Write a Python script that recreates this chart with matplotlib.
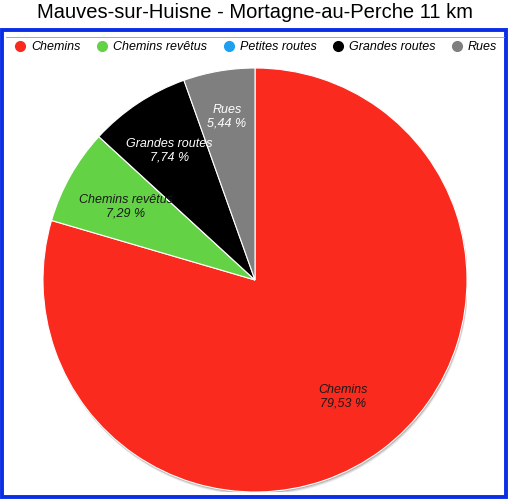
import numpy as np
import matplotlib
matplotlib.use("Agg")
import matplotlib.pyplot as plt
from matplotlib.lines import Line2D
from matplotlib.patches import Rectangle, Circle

# data
categories = ["Chemins", "Chemins revêtus", "Petites routes", "Grandes routes", "Rues"]
values = [79.53, 7.29, 0.0, 7.74, 5.44]
colors = ["#fb2a1e", "#63d245", "#1f9ff0", "#000000", "#7f7f7f"]
text_colors = ["#1a1a1a", "#1a1a1a", "#1a1a1a", "#ffffff", "#ffffff"]
title = "Mauves-sur-Huisne - Mortagne-au-Perche 11 km"

plt.rcParams['font.family'] = ['Liberation Sans', 'DejaVu Sans']

fig = plt.figure(figsize=(5.1, 5.0), dpi=100)
fig.patch.set_facecolor("white")

# blue frame around chart area
fig.patches.append(Rectangle((2.5 / 510, 3 / 500), 504 / 510, 467 / 500,
                             transform=fig.transFigure, fill=False,
                             edgecolor="#0a2ee6", linewidth=2.8, zorder=0))
fig.add_artist(Line2D([6 / 510, 504 / 510], [1 - 37 / 500, 1 - 37 / 500],
                      transform=fig.transFigure, color="#9a9a9a", linewidth=0.6))

fig.text(0.5, 1 - 13 / 500, title, ha="center", va="center", fontsize=14.5)

ax = fig.add_axes([43 / 510, 8 / 500, 424 / 510, 424 / 500])
# soft grey shadow under the pie
for off, a in [(0.016, 0.10), (0.011, 0.18), (0.006, 0.30)]:
    ax.add_patch(Circle((off * 0.4, -off), 1.0, color="#555555", alpha=a,
                        linewidth=0, zorder=0))
wedges, _ = ax.pie(values, colors=colors, startangle=90, counterclock=False,
                   wedgeprops=dict(edgecolor="white", linewidth=0.8, zorder=2))
ax.set_xlim(-1, 1)
ax.set_ylim(-1, 1)
ax.set_aspect("equal")

# labels inside wedges
dists = [0.69, 0.70, 0.70, 0.73, 0.78]
for w, name, v, tc, d in zip(wedges, categories, values, text_colors, dists):
    if v <= 0:
        continue
    ang = np.deg2rad((w.theta1 + w.theta2) / 2)
    x, y = d * np.cos(ang), d * np.sin(ang)
    ax.text(x, y, name + "\n" + f"{v:.2f} %".replace(".", ","), ha="center",
            va="center", color=tc, fontsize=9, style="italic", linespacing=1.15,
            zorder=3)

handles = [Line2D([], [], marker="o", linestyle="", markersize=7,
                  markerfacecolor=c, markeredgecolor=c) for c in colors]
fig.legend(handles, categories, loc="center", bbox_to_anchor=(0.5, 1 - 47 / 500),
           ncol=5, frameon=False, prop=dict(size=9, style="italic"),
           handletextpad=0.3, columnspacing=1.1, handlelength=1.2)

fig.savefig("out.png", dpi=100)
